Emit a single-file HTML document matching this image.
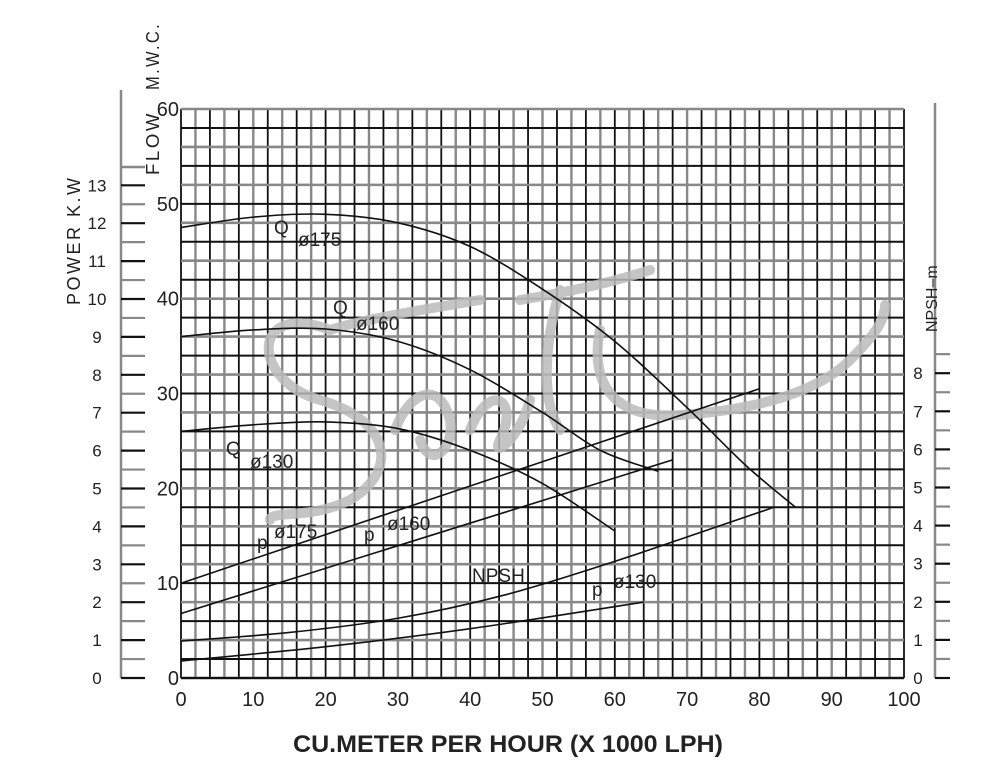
<!DOCTYPE html>
<html><head><meta charset="utf-8"><style>
html,body{margin:0;padding:0;background:#fff;}
svg{display:block;font-family:"Liberation Sans Narrow","Liberation Sans",sans-serif;}
</style></head><body>
<svg id="s" width="987" height="763" viewBox="0 0 987 763" xmlns="http://www.w3.org/2000/svg">
<rect width="987" height="763" fill="#fff"/>
<g id="grid"></g>
<g id="ax"></g>
<g fill="none" stroke="#bbb" stroke-width="10" stroke-linecap="round" opacity="0.85">
<path d="M330,330 C250,300 250,380 320,400 C390,420 400,470 350,500 C310,520 270,510 270,520"/>
<path d="M395,430 C410,390 440,380 450,420 C455,450 430,470 420,440"/>
<path d="M470,430 C490,380 520,400 500,440 C490,460 520,440 530,400"/>
<path d="M560,290 C545,340 540,400 560,430"/>
<path d="M520,300 C580,290 620,280 650,270"/>
<path d="M600,330 C590,380 610,420 680,415 C760,410 820,390 850,360 C875,335 885,320 885,305"/>
<path d="M330,330 C360,320 420,310 480,300"/>
</g>
<g id="curves" fill="none" stroke="#111" stroke-width="1.6"></g>
<g font-size="19" fill="#222">
<text x="274" y="234">Q</text><text x="298" y="246">ø175</text>
<text x="333" y="314">Q</text><text x="356" y="330">ø160</text>
<text x="226" y="455">Q</text><text x="250" y="468">ø130</text>
<text x="257" y="549">p</text><text x="274" y="538">ø175</text>
<text x="364" y="541">p</text><text x="387" y="530">ø160</text>
<text x="472" y="582">NPSH</text>
<text x="592" y="596">p</text><text x="613" y="588">ø130</text>
</g>
<g font-size="18" fill="#222">
<text transform="translate(80,305) rotate(-90)" letter-spacing="2.5">POWER K.W</text>
<text transform="translate(159,175) rotate(-90)" letter-spacing="2.5" textLength="64" lengthAdjust="spacingAndGlyphs">FLOW</text>
<text transform="translate(159,90) rotate(-90)" letter-spacing="2.5" textLength="68" lengthAdjust="spacingAndGlyphs">M.W.C.</text>
<text transform="translate(937,332) rotate(-90)" font-size="16">NPSH–m</text>
</g>
<text x="508" y="752" text-anchor="middle" font-size="24" font-weight="bold" fill="#222" textLength="430" lengthAdjust="spacingAndGlyphs">CU.METER PER HOUR (X 1000 LPH)</text>
</svg>
<script>
var NS="http://www.w3.org/2000/svg";
function el(p,t,a,txt){var e=document.createElementNS(NS,t);for(var k in a)e.setAttribute(k,a[k]);if(txt!==undefined)e.textContent=txt;p.appendChild(e);return e;}
var L=181,R=904,T=109,B=678;
var X=function(u){return L+u*(R-L)/100;}, Y=function(v){return B-v*(B-T)/60;};
var g=document.getElementById('grid');
for(var i=0;i<=50;i++){var x=L+i*(R-L)/50;el(g,'line',{x1:x,x2:x,y1:T,y2:B,stroke:i%2?'#888':'#111','stroke-width':i%2?2.4:1.8});}
for(var j=0;j<=30;j++){var y=T+j*(B-T)/30;el(g,'line',{x1:L,x2:R,y1:y,y2:y,stroke:j%2?'#111':'#888','stroke-width':j%2?2:2.6});}
el(g,'line',{x1:L,x2:R,y1:B,y2:B,stroke:'#111','stroke-width':2.2});
var a=document.getElementById('ax');
for(var v=0;v<=60;v+=10)el(a,'text',{x:L-2,y:Y(v)+7,'text-anchor':'end','font-size':20,fill:'#222'},v);
for(var u=0;u<=100;u+=10)el(a,'text',{x:X(u),y:706,'text-anchor':'middle','font-size':20,fill:'#222'},u);
el(a,'line',{x1:121,x2:121,y1:90,y2:678,stroke:'#888','stroke-width':2.5});
el(a,'line',{x1:121,x2:145,y1:167,y2:167,stroke:'#888','stroke-width':2.5});
for(var k=0;k<=26;k++){var y=678-k*37.9/2;el(a,'line',{x1:121,x2:145,y1:y,y2:y,stroke:k%2?'#888':'#111','stroke-width':2.2});if(k%2==0)el(a,'text',{x:97,y:y+6,'text-anchor':'middle','font-size':17,fill:'#222'},k/2);}
el(a,'line',{x1:935,x2:935,y1:103,y2:678,stroke:'#888','stroke-width':2.5});
for(var k=0;k<=17;k++){var y=678-k*38.1/2;el(a,'line',{x1:935,x2:950,y1:y,y2:y,stroke:k%2?'#888':'#111','stroke-width':2.2});if(k%2==0&&k<=16)el(a,'text',{x:918,y:y+6,'text-anchor':'middle','font-size':17,fill:'#222'},k/2);}
var c=document.getElementById('curves');
function poly(pts){var d='';for(var i=0;i<pts.length;i++){d+=(i?'L':'M')+X(pts[i][0]).toFixed(1)+','+Y(pts[i][1]).toFixed(1);}el(c,'path',{d:d});}
function smooth(pts){var d='M'+X(pts[0][0])+','+Y(pts[0][1]);for(var i=1;i<pts.length;i++){var p0=pts[Math.max(i-2,0)],p1=pts[i-1],p2=pts[i],p3=pts[Math.min(i+1,pts.length-1)];
var c1=[p1[0]+(p2[0]-p0[0])/6,p1[1]+(p2[1]-p0[1])/6],c2=[p2[0]-(p3[0]-p1[0])/6,p2[1]-(p3[1]-p1[1])/6];
d+='C'+X(c1[0])+','+Y(c1[1])+' '+X(c2[0])+','+Y(c2[1])+' '+X(p2[0])+','+Y(p2[1]);}el(c,'path',{d:d});}
smooth([[0,47.5],[10,48.6],[20,48.9],[30,48],[40,45.5],[50,41],[60,35.5],[70,28.5],[78,22.5],[85,18]]);
smooth([[0,36],[10,36.7],[20,36.8],[30,35.5],[40,32.5],[50,28],[58,24],[66,21.8]]);
smooth([[0,26],[10,26.7],[20,27],[30,26.3],[40,24],[50,20.5],[60,15.5]]);
poly([[0,10],[80,30.5]]);
poly([[0,6.8],[68,23]]);
smooth([[0,1.8],[20,3.3],[40,5.2],[64,8]]);
smooth([[0,3.9],[15,4.8],[30,6.3],[45,8.8],[60,12.3],[72,15.4],[82,18]]);
</script>
</body></html>
